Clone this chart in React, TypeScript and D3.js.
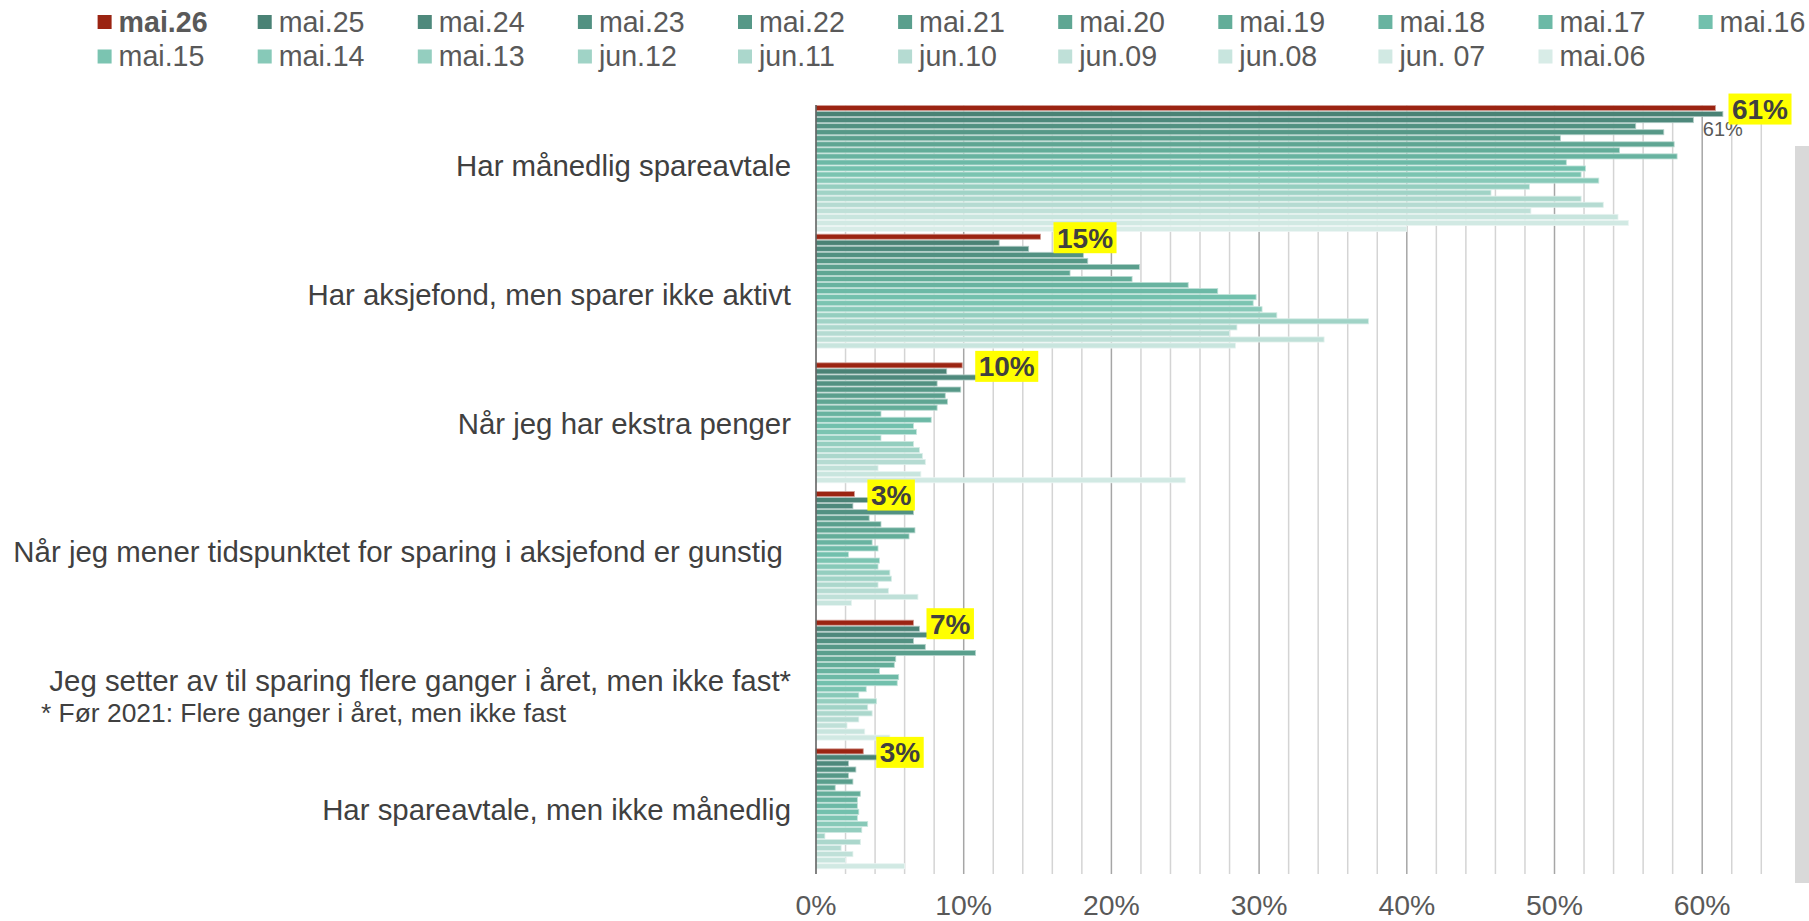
import React from "react";
import * as d3 from "d3";

const W = 1809;
const H = 921;

// survey rounds, newest first (legend order)
const series = [
  "mai.26", "mai.25", "mai.24", "mai.23", "mai.22", "mai.21", "mai.20",
  "mai.19", "mai.18", "mai.17", "mai.16", "mai.15", "mai.14", "mai.13",
  "jun.12", "jun.11", "jun.10", "jun.09", "jun.08", "jun. 07", "mai.06",
];

const seriesColors = [
  "#9b2412", "#4a8275", "#4e897c", "#529182", "#569887", "#5a9f8d",
  "#5fa693", "#63ad99", "#68b3a0", "#6cb9a6", "#72c0ad", "#7bc4b1",
  "#87c9b8", "#94cebf", "#a0d3c6", "#abd7cc", "#b5dbd2", "#bfe0d8",
  "#c8e5de", "#d1e9e3", "#d8ece7",
];

const categories = [
  "Har månedlig spareavtale",
  "Har aksjefond, men sparer ikke aktivt",
  "Når jeg har ekstra penger",
  "Når jeg mener tidspunktet for sparing i aksjefond er gunstig\u00a0",
  "Jeg setter av til sparing flere ganger i året, men ikke fast*",
  "Har spareavtale, men ikke månedlig",
];

// percent per survey round, same order as series
const maanedligSpareavtale = [60.9, 61.4, 59.4, 55.5, 57.4, 50.4, 58.1, 54.4, 58.3, 50.8, 52.1, 51.8, 53.0, 48.3, 45.7, 51.8, 53.3, 48.4, 54.3, 55.0, 40.0];
const aksjefondPassiv = [15.2, 12.4, 14.4, 18.1, 18.4, 21.9, 17.2, 21.4, 25.2, 27.2, 29.8, 29.6, 30.2, 31.2, 37.4, 28.5, 28.0, 34.4, 28.4];
const ekstraPenger = [9.9, 8.85, 11.0, 8.2, 9.8, 8.75, 8.9, 8.2, 4.4, 7.8, 6.6, 6.8, 4.4, 6.6, 7.0, 7.2, 7.4, 4.2, 7.1, 25.0];
const gunstigTidspunkt = [2.6, 4.0, 2.5, 6.6, 3.6, 4.4, 6.7, 6.3, 3.8, 4.2, 2.2, 4.3, 4.2, 5.0, 5.1, 4.2, 4.9, 6.9, 2.4];
const flereGanger = [6.6, 7.0, 8.0, 6.6, 7.4, 10.8, 5.4, 5.3, 4.3, 5.6, 5.5, 3.4, 2.9, 4.1, 3.5, 3.8, 2.9, 2.1, 3.3, 5.0];
const ikkeMaanedlig = [3.2, 4.5, 2.2, 2.7, 2.2, 2.5, 1.3, 3.0, 2.8, 2.8, 2.9, 2.8, 3.5, 3.1, 0.6, 3.0, 1.7, 2.5, 2.0, 6.0];

const valuesByCategory = [
  maanedligSpareavtale,
  aksjefondPassiv,
  ekstraPenger,
  gunstigTidspunkt,
  flereGanger,
  ikkeMaanedlig,
];

const xTicks = [0, 10, 20, 30, 40, 50, 60];
const gridValues = d3.range(2, 65, 2);

const FONT = "Arial, 'Liberation Sans', Helvetica, sans-serif";

export default function App() {
  const x = d3.scaleLinear().domain([0, 64]).range([816, 816 + 64 * 14.77]);
  const y0 = d3.scaleBand<number>().domain(d3.range(categories.length)).range([104.5, 876.5]);
  const y1 = d3
    .scaleBand<number>()
    .domain(d3.range(series.length))
    .range([1, 127])
    .paddingInner(0.16);

  const legendCol = (i: number) => 97.6 + (i % 11) * 160.1;
  const legendBase = (i: number) => (i < 11 ? 31.5 : 66);

  const labelW = (s: string) =>
    s.split("").reduce((a, c) => a + (c === "%" ? 0.889 : 0.556), 0) * 28;

  return (
    <svg
      width={W}
      height={H}
      style={{ position: "absolute", left: 0, top: 0, display: "block", background: "#fff" }}
      fontFamily={FONT}
    >
      {/* legend */}
      {series.map((s, i) => (
        <g key={s}>
          <rect x={legendCol(i)} y={legendBase(i) - 16.5} width={14} height={14} fill={seriesColors[i]} />
          <text
            x={legendCol(i) + 21}
            y={legendBase(i)}
            fontSize={28.6}
            fill="#595959"
            fontWeight={i === 0 ? "bold" : "normal"}
          >
            {s}
          </text>
        </g>
      ))}

      {/* gridlines */}
      {gridValues.map((v) => (
        <line
          key={v}
          x1={x(v)}
          x2={x(v)}
          y1={105}
          y2={874}
          stroke={v % 10 === 0 ? "#a6a6a6" : "#d4d4d4"}
          strokeWidth={1.5}
        />
      ))}

      {/* bars */}
      {valuesByCategory.map((vals, ci) => (
        <g key={ci} transform={`translate(0,${y0(ci)})`}>
          {vals.map((v, si) => (
            <rect
              key={si}
              x={x(0)}
              y={y1(si)}
              width={x(v) - x(0)}
              height={y1.bandwidth()}
              fill={seriesColors[si]}
              stroke={d3.interpolateRgb(seriesColors[si], "#ffffff")(0.55)}
              strokeWidth={0.8}
            />
          ))}
        </g>
      ))}

      {/* axis line */}
      <line x1={x(0)} x2={x(0)} y1={105} y2={874} stroke="#595959" strokeWidth={1.5} />

      {/* small data label for mai.25 */}
      <text
        x={x(maanedligSpareavtale[1])}
        y={(y0(0) as number) + (y1(1) as number) + y1.bandwidth() + 19.5}
        textAnchor="middle"
        fontSize={20}
        fill="#595959"
      >
        {Math.round(maanedligSpareavtale[1])}%
      </text>

      {/* highlighted labels for newest round */}
      {valuesByCategory.map((vals, ci) => {
        const t = `${Math.round(vals[0])}%`;
        const bx = x(vals[0]) + 13;
        const cy = (y0(ci) as number) + (y1(0) as number) + y1.bandwidth() / 2 + 1;
        const bw = labelW(t) + 7;
        return (
          <g key={ci}>
            <rect x={bx} y={cy - 15.5} width={bw} height={31} fill="#ffff00" />
            <text
              x={bx + bw / 2}
              y={cy + 10}
              textAnchor="middle"
              fontSize={28}
              fontWeight="bold"
              fill="#404040"
            >
              {t}
            </text>
          </g>
        );
      })}

      {/* category labels */}
      {categories.map((c, ci) => (
        <text
          key={ci}
          x={791}
          y={(y0(ci) as number) + y0.bandwidth() / 2 + 7.5}
          textAnchor="end"
          fontSize={29.4}
          fill="#404040"
        >
          {c}
        </text>
      ))}
      <text x={41} y={722} fontSize={26.4} fill="#404040">
        * Før 2021: Flere ganger i året, men ikke fast
      </text>

      {/* x axis labels */}
      {xTicks.map((v) => (
        <text key={v} x={x(v)} y={915} textAnchor="middle" fontSize={28.4} fill="#595959">
          {v}%
        </text>
      ))}

      {/* grey strip on the right edge */}
      <rect x={1795} y={146} width={14} height={737} fill="#d9d9d9" />
    </svg>
  );
}
